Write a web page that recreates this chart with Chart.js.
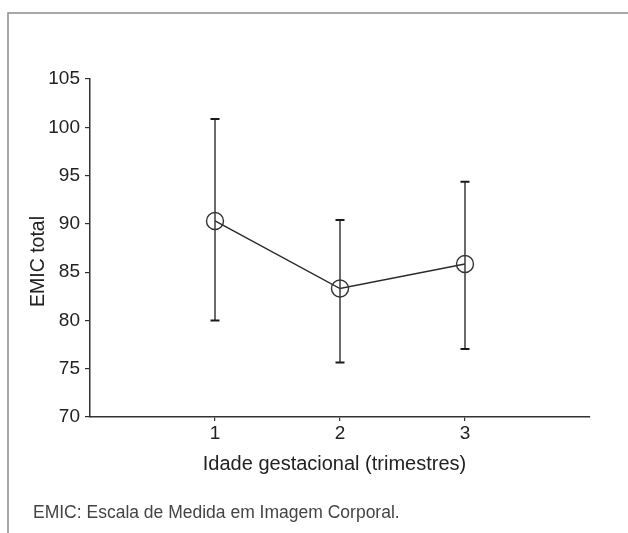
<!DOCTYPE html>
<html>
<head>
<meta charset="utf-8">
<script src="https://cdn.jsdelivr.net/npm/chart.js@4/dist/chart.umd.min.js"></script>
<style>
  html, body { margin: 0; padding: 0; background: #ffffff; }
  canvas { display: block; }
</style>
</head>
<body>
<canvas id="c" width="628" height="533"></canvas>
<script>
// ---- data ----
const trimesters = [1, 2, 3];
const xTickValues = [1, 2, 3];
const xTickLabels = ['1', '2', '3'];
const meanEMIC  = [90.3, 83.3, 85.85];
const upperEMIC = [100.85, 90.4, 94.35];
const lowerEMIC = [80.0, 75.65, 77.05];
const yTickValues = [70, 75, 80, 85, 90, 95, 100, 105];
const xAxisTitle = 'Idade gestacional (trimestres)';
const yAxisTitle = 'EMIC total';
const captionText = 'EMIC: Escala de Medida em Imagem Corporal.';

const FONT = '"Liberation Sans", Arial, Helvetica, sans-serif';

const framePlugin = {
  id: 'frame',
  beforeDraw(chart) {
    const ctx = chart.ctx;
    ctx.save();
    ctx.strokeStyle = '#8c8c8c';
    ctx.lineWidth = 1.5;
    ctx.beginPath();
    ctx.moveTo(8, 533);
    ctx.lineTo(8, 13);
    ctx.lineTo(628, 13);
    ctx.stroke();
    ctx.restore();
  },
  afterDraw(chart) {
    const ctx = chart.ctx;
    const area = chart.chartArea;
    ctx.save();
    // x axis title
    ctx.fillStyle = '#222222';
    ctx.font = '20px ' + FONT;
    ctx.textAlign = 'center';
    ctx.textBaseline = 'alphabetic';
    ctx.fillText(xAxisTitle, (area.left + area.right) / 2 - 5.5, area.bottom + 52.5);
    // y axis title (rotated)
    ctx.save();
    ctx.translate(43.5, (area.top + area.bottom) / 2 + 13.5);
    ctx.rotate(-Math.PI / 2);
    ctx.font = '19.5px ' + FONT;
    ctx.textAlign = 'center';
    ctx.textBaseline = 'alphabetic';
    ctx.fillText(yAxisTitle, 0, 0);
    ctx.restore();
    // caption
    ctx.fillStyle = '#444444';
    ctx.font = '17.5px ' + FONT;
    ctx.textAlign = 'left';
    ctx.textBaseline = 'middle';
    ctx.fillText(captionText, 33, 513);
    ctx.restore();
  }
};

const errorBarPlugin = {
  id: 'errorBars',
  afterDatasetsDraw(chart) {
    const ctx = chart.ctx;
    const xs = chart.scales.x, ys = chart.scales.y;
    ctx.save();
    for (let i = 0; i < trimesters.length; i++) {
      const px = xs.getPixelForValue(trimesters[i]);
      const pTop = ys.getPixelForValue(upperEMIC[i]);
      const pBot = ys.getPixelForValue(lowerEMIC[i]);
      ctx.strokeStyle = '#3a3a3a';
      ctx.lineWidth = 1.5;
      ctx.beginPath();
      ctx.moveTo(px, pTop);
      ctx.lineTo(px, pBot);
      ctx.stroke();
      ctx.strokeStyle = '#1a1a1a';
      ctx.lineWidth = 2;
      ctx.beginPath();
      ctx.moveTo(px - 4.5, pTop);
      ctx.lineTo(px + 4.5, pTop);
      ctx.moveTo(px - 4.5, pBot);
      ctx.lineTo(px + 4.5, pBot);
      ctx.stroke();
    }
    ctx.restore();
  }
};

new Chart(document.getElementById('c'), {
  type: 'line',
  data: {
    datasets: [{
      data: trimesters.map((t, i) => ({ x: t, y: meanEMIC[i] })),
      borderColor: '#2a2a2a',
      borderWidth: 1.5,
      backgroundColor: 'rgba(0,0,0,0)',
      pointRadius: 8.5,
      pointHoverRadius: 8.5,
      pointBorderWidth: 1.4,
      pointBorderColor: '#333333',
      pointBackgroundColor: 'rgba(0,0,0,0)',
      tension: 0
    }]
  },
  options: {
    responsive: false,
    devicePixelRatio: 1,
    animation: false,
    events: [],
    layout: { padding: { top: 79, right: 38, bottom: 40, left: 0 } },
    plugins: {
      legend: { display: false },
      tooltip: { enabled: false },
      title: { display: false }
    },
    scales: {
      x: {
        type: 'linear',
        min: 0,
        max: 4,
        afterBuildTicks(axis) { axis.ticks = xTickValues.map(v => ({ value: v })); },
        afterFit(axis) { axis.height = 76; },
        grid: { drawOnChartArea: false, drawTicks: true, tickLength: 4, color: '#333333', lineWidth: 1.2 },
        border: { display: true, color: '#333333', width: 1.5 },
        ticks: {
          padding: 1,
          color: '#222222',
          font: { family: FONT, size: 19 },
          callback(v) { const k = xTickValues.indexOf(v); return k >= 0 ? xTickLabels[k] : ''; }
        },
        title: { display: false }
      },
      y: {
        type: 'linear',
        min: 70,
        max: 105,
        afterBuildTicks(axis) { axis.ticks = yTickValues.map(v => ({ value: v })); },
        afterFit(axis) { axis.width = 90; },
        grid: { drawOnChartArea: false, drawTicks: true, tickLength: 5, color: '#333333', lineWidth: 1.2 },
        border: { display: true, color: '#333333', width: 1.5 },
        ticks: {
          padding: 5,
          color: '#222222',
          font: { family: FONT, size: 19 }
        },
        title: { display: false }
      }
    }
  },
  plugins: [framePlugin, errorBarPlugin]
});
</script>
</body>
</html>
